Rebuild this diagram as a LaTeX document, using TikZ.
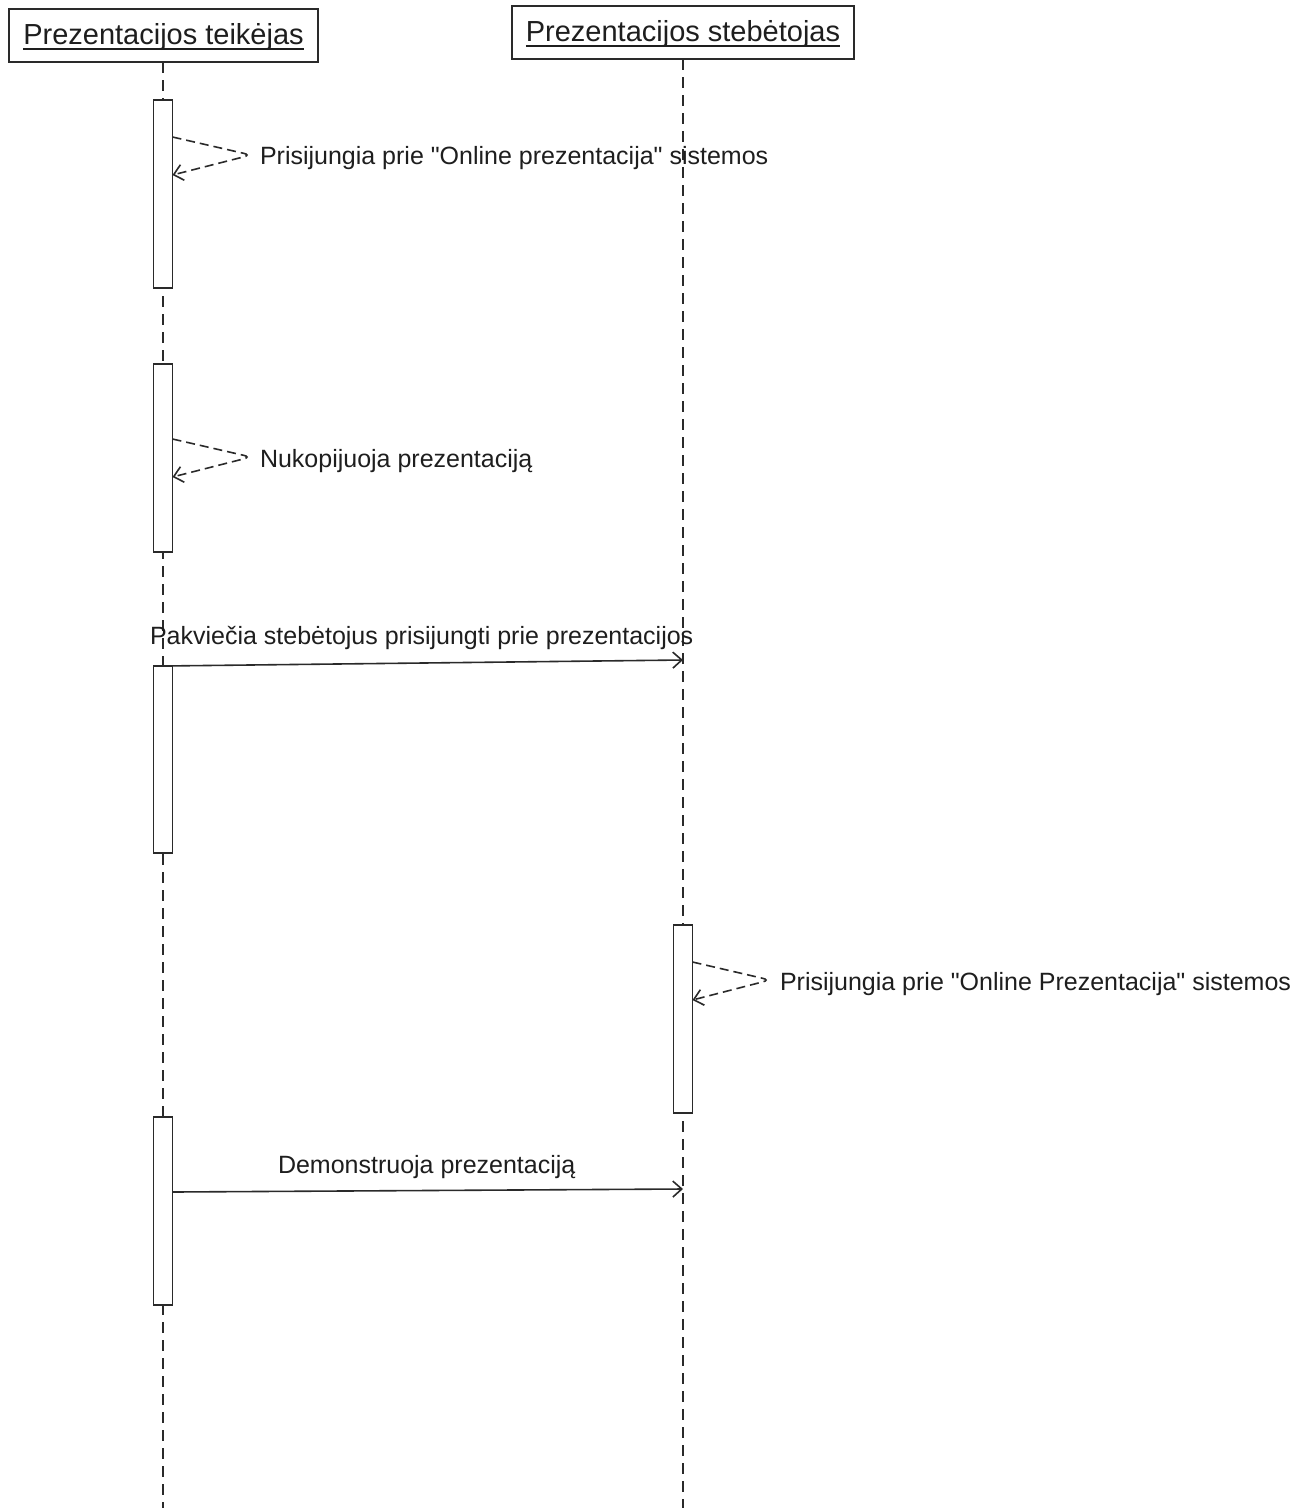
\documentclass[tikz,border=0pt]{standalone}
\usepackage{fontspec}
\setmainfont{Liberation Sans}[Ligatures=TeXOff]
\usetikzlibrary{arrows.meta}
\definecolor{linecol}{HTML}{2A2A2A}
\definecolor{txtcol}{HTML}{1E1E1E}
% underline drawn as a rule just below the baseline
\newcommand\ulined[1]{\setbox0\hbox{#1}\rlap{\rule[-5.5pt]{\wd0}{1.5pt}}\box0}
\begin{document}
\begin{tikzpicture}[x=1pt,y=-1pt,
  every node/.style={inner sep=0pt, outer sep=0pt},
  actor/.style={draw=linecol, line width=1.6pt, fill=white, minimum height=53pt,
    text height=21pt, text depth=4pt, font=\fontsize{29}{34}\selectfont, text=txtcol},
  lifeline/.style={draw=linecol, line width=1.8pt, dash pattern=on 11pt off 7pt},
  activation/.style={draw=linecol, line width=1.6pt, fill=white, minimum width=19pt},
  msg/.style={draw=linecol, line width=1.6pt,
    -{Straight Barb[length=9pt,width=16pt,line width=1.6pt]}},
  selfmsg/.style={msg, dash pattern=on 9pt off 5pt, rounded corners=7pt},
  lbl/.style={anchor=base west, font=\fontsize{25}{30}\selectfont, text=txtcol}]

\useasboundingbox (0,0) rectangle (1312,1508);
\fill[white] (0,0) rectangle (1312,1508);

% actors
\node[actor, minimum width=309pt] (teik) at (163.5,35.5) {\ulined{Prezentacijos teikėjas}};
\node[actor, minimum width=342pt] (steb) at (683,32.5) {\ulined{Prezentacijos stebėtojas}};

% lifelines
\coordinate (teikEnd) at (163,1508);
\coordinate (stebEnd) at (683,1508);
\draw[lifeline] (teik.south -| teikEnd) -- (teikEnd);
\draw[lifeline] (steb.south -| stebEnd) -- (stebEnd);

% activation bars
\node[activation, minimum height=188pt] (actA) at (163,194) {};
\node[activation, minimum height=188pt] (actB) at (163,458) {};
\node[activation, minimum height=187pt] (actC) at (163,759.5) {};
\node[activation, minimum height=188pt] (actD) at (683,1019) {};
\node[activation, minimum height=188pt] (actE) at (163,1211) {};

% self message: log in (presenter)
\coordinate (sA1) at (actA.east |- 0,137);
\coordinate (sA2) at (251,155);
\coordinate (sA3) at (actA.east |- 0,175);
\draw[selfmsg] (sA1) -- (sA2) -- (sA3);
\node[lbl] (lA) at (260,164) {Prisijungia prie "Online prezentacija" sistemos};

% self message: copy presentation
\coordinate (sB1) at (actB.east |- 0,439);
\coordinate (sB2) at (251,457);
\coordinate (sB3) at (actB.east |- 0,477);
\draw[selfmsg] (sB1) -- (sB2) -- (sB3);
\node[lbl] (lB) at (260,467) {Nukopijuoja prezentaciją};

% invite observers
\coordinate (cC) at (683,660);
\draw[msg] (actC.north) -- (cC);
\node[lbl] (lC) at (150,644) {Pakviečia stebėtojus prisijungti prie prezentacijos};

% self message: log in (observer)
\coordinate (sD1) at (actD.east |- 0,962);
\coordinate (sD2) at (770,980);
\coordinate (sD3) at (actD.east |- 0,1000);
\draw[selfmsg] (sD1) -- (sD2) -- (sD3);
\node[lbl] (lD) at (780,990) {Prisijungia prie "Online Prezentacija" sistemos};

% demonstrate presentation
\coordinate (cE) at (683,1189);
\draw[msg] (actE.east |- 0,1192) -- (cE);
\node[lbl] (lE) at (278,1173) {Demonstruoja prezentaciją};
\end{tikzpicture}
\end{document}
